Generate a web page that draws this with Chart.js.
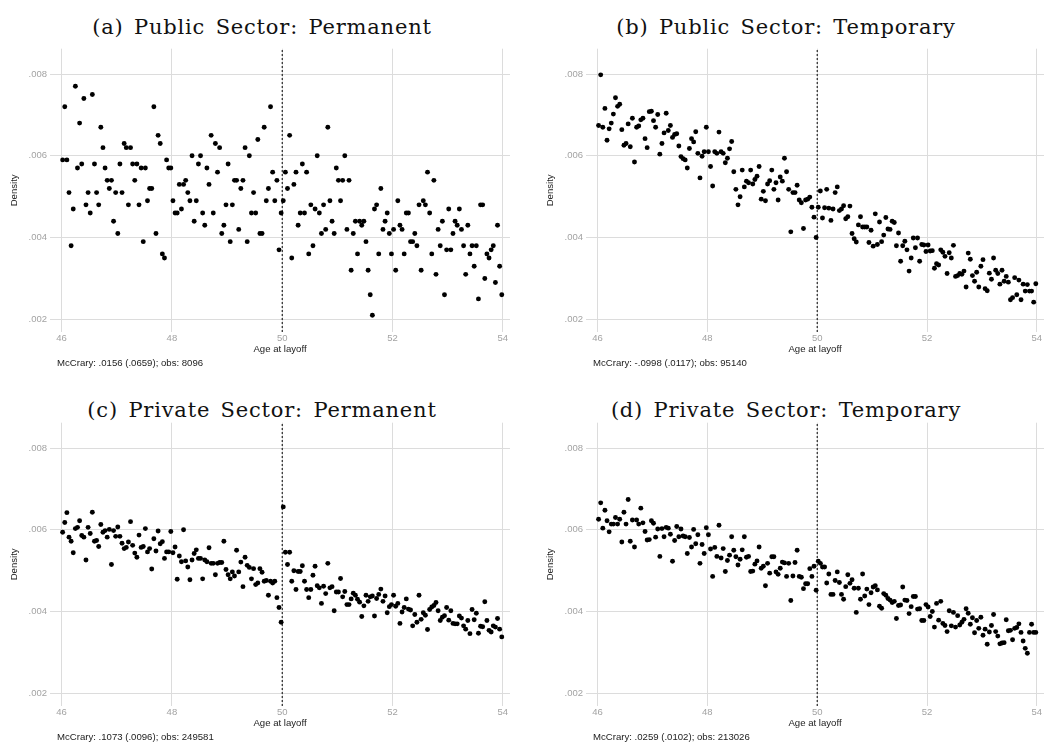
<!DOCTYPE html>
<html>
<head>
<meta charset="utf-8">
<script src="https://cdn.jsdelivr.net/npm/chart.js@4.4.1/dist/chart.umd.min.js"></script>
<style>
  html, body { margin: 0; padding: 0; background: #fff; }
  #page { position: relative; width: 1048px; height: 745px; overflow: hidden; }
  canvas { position: absolute; }
  .panel-title {
    position: absolute; width: 524px; text-align: center;
    font-family: "DejaVu Serif", serif; font-size: 21px; line-height: 24px;
    letter-spacing: 0.8px; word-spacing: 3px; color: #111;
  }
  .note {
    position: absolute; font-family: "Liberation Sans", Arial, sans-serif;
    font-size: 9.6px; line-height: 11px; color: #222; white-space: nowrap;
  }
</style>
</head>
<body>
<div id="page">
  <div class="panel-title" style="left:0;top:15px">(a) Public Sector: Permanent</div>
  <div class="panel-title" style="left:524px;top:15px">(b) Public Sector: Temporary</div>
  <div class="panel-title" style="left:0;top:398px">(c) Private Sector: Permanent</div>
  <div class="panel-title" style="left:524px;top:398px">(d) Private Sector: Temporary</div>

  <canvas id="pubPermChart" width="524" height="318" style="left:0;top:40px"></canvas>
  <canvas id="pubTempChart" width="512" height="318" style="left:536px;top:40px"></canvas>
  <canvas id="privPermChart" width="524" height="318" style="left:0;top:414px"></canvas>
  <canvas id="privTempChart" width="512" height="318" style="left:536px;top:414px"></canvas>

  <div class="note" style="left:57px;top:357px">McCrary: .0156 (.0659); obs: 8096</div>
  <div class="note" style="left:593px;top:357px">McCrary: -.0998 (.0117); obs: 95140</div>
  <div class="note" style="left:57px;top:731px">McCrary: .1073 (.0096); obs: 249581</div>
  <div class="note" style="left:593px;top:731px">McCrary: .0259 (.0102); obs: 213026</div>
</div>

<script>
// Two-week age bins from 46 to 54 (26 per year), cutoff at 50
const BINS_PER_YEAR = 26;
const ageBins = Array.from({ length: 208 }, (_, i) => 46 + (i + 0.5) / BINS_PER_YEAR);
const xTicks = [46, 48, 50, 52, 54];
const yTicks = [0.002, 0.004, 0.006, 0.008];
const CUTOFF = 50;
const X_MIN = 45.79, X_MAX = 54.13;
const Y_MIN = 0.00169, Y_MAX = 0.00862;

// Density per bin, public sector, permanent contracts
const pubPerm = [
  .0059,.0072,.0059,.0051,.0038,.0047,.0077,.0057,.0068,.0058,
  .0074,.0048,.0051,.0046,.0075,.0058,.0051,.0048,.0067,.0062,
  .0057,.0054,.0052,.0054,.0044,.0051,.0041,.0058,.0051,.0063,
  .0062,.0048,.0062,.0058,.0054,.0058,.0048,.0057,.0039,.0057,
  .0049,.0052,.0052,.0072,.0041,.0065,.0063,.0036,.0035,.0059,
  .0057,.0057,.0049,.0046,.0046,.0053,.0047,.0053,.0054,.0051,
  .0049,.0060,.0044,.0049,.0058,.0060,.0046,.0043,.0057,.0053,
  .0065,.0046,.0063,.0056,.0062,.0041,.0043,.0048,.0058,.0039,
  .0048,.0054,.0054,.0042,.0052,.0054,.0062,.0039,.0060,.0046,
  .0051,.0046,.0064,.0041,.0041,.0067,.0049,.0052,.0072,.0056,
  .0049,.0054,.0037,.0046,
  .0049,.0056,.0052,.0065,.0035,.0053,.0056,.0043,.0046,.0058,
  .0046,.0056,.0036,.0048,.0038,.0047,.0060,.0046,.0041,.0048,
  .0042,.0067,.0049,.0044,.0041,.0057,.0054,.0049,.0054,.0060,
  .0042,.0054,.0032,.0041,.0044,.0036,.0044,.0043,.0044,.0039,
  .0032,.0026,.0021,.0047,.0048,.0036,.0052,.0042,.0044,.0046,
  .0041,.0036,.0042,.0032,.0049,.0043,.0042,.0036,.0046,.0046,
  .0039,.0039,.0041,.0038,.0048,.0032,.0049,.0048,.0056,.0046,
  .0036,.0054,.0031,.0042,.0038,.0044,.0026,.0037,.0047,.0037,
  .0041,.0044,.0043,.0047,.0042,.0038,.0031,.0043,.0036,.0038,
  .0033,.0038,.0025,.0048,.0048,.0030,.0036,.0035,.0037,.0038,
  .0029,.0043,.0033,.0026
];

// Public sector, temporary contracts
const pubTemp = [
  .00674,.00798,.0067,.00716,.00638,.00666,.0068,.00702,.00742,.00721,
  .00726,.00664,.00626,.0063,.00678,.00622,.00692,.00585,.0067,.00673,
  .00688,.00692,.00642,.0062,.00708,.00709,.00686,.0067,.00701,.00604,
  .0063,.00656,.00704,.00662,.00674,.00645,.00652,.00654,.00624,.00598,
  .00593,.0059,.0057,.00618,.00642,.00634,.00659,.00606,.00546,.00599,
  .0061,.0067,.0061,.00574,.00526,.0061,.00606,.00658,.0061,.00606,
  .00583,.00594,.00617,.00635,.00561,.00518,.0048,.005,.00565,.00524,
  .00538,.00534,.00565,.00531,.00542,.0055,.00574,.00494,.00513,.0049,
  .00531,.00539,.00565,.00518,.00534,.00492,.00548,.00538,.00594,.00561,
  .00518,.00414,.0051,.0051,.00528,.00492,.00485,.00422,.00492,.00494,
  .00499,.00474,.0045,.004,
  .00474,.00514,.00448,.00473,.00518,.00472,.00442,.0047,.0051,.00524,
  .00466,.0047,.00478,.00446,.00451,.00477,.0041,.00397,.00389,.00431,
  .00451,.00426,.00426,.00426,.00388,.00418,.00379,.00458,.00383,.00438,
  .0039,.00406,.00449,.00421,.0042,.0044,.00437,.0038,.00411,.00342,
  .0038,.00391,.0037,.00318,.0035,.00399,.00375,.00399,.00342,.00383,
  .00382,.00366,.00382,.00367,.00368,.00325,.00336,.00333,.0037,.00364,
  .00354,.00312,.00363,.0035,.00381,.00305,.00307,.00312,.0031,.00318,
  .00279,.00362,.00347,.00307,.00293,.00315,.00279,.0033,.00346,.00275,
  .0027,.00313,.00298,.0035,.0032,.00312,.00286,.0032,.00293,.00305,
  .00291,.00248,.00253,.00302,.0026,.00296,.00248,.00286,.00269,.00285,
  .00269,.00269,.00242,.00287
];

// Private sector, permanent contracts
const privPerm = [
  .00594,.00618,.00642,.00582,.00572,.00544,.00603,.00606,.00622,.00586,
  .00582,.00526,.00606,.00591,.00643,.00572,.00574,.00559,.00613,.00594,
  .00598,.00582,.00601,.00515,.00598,.00584,.00607,.00584,.00567,.00554,
  .00557,.0057,.0062,.00562,.00543,.00533,.00587,.00557,.00559,.00603,
  .00546,.00554,.00504,.00578,.00548,.00597,.00566,.00571,.0053,.00546,
  .00546,.00596,.00544,.00558,.00479,.00536,.00522,.006,.00524,.00509,
  .00478,.00526,.00542,.00551,.0053,.0053,.0048,.00526,.00522,.00556,
  .00518,.00518,.0049,.00518,.0052,.0052,.00572,.00503,.0049,.0048,
  .00497,.00487,.0055,.00497,.00521,.00461,.00533,.00513,.00508,.0048,
  .00505,.00466,.0047,.00505,.00496,.00474,.00476,.0044,.00474,.0047,
  .00474,.00434,.0041,.00374,
  .00656,.00545,.00515,.00545,.00474,.005,.00454,.00498,.00498,.00512,
  .00474,.00454,.00434,.00454,.00489,.00511,.00463,.00458,.0042,.00462,
  .00444,.00518,.00458,.00461,.00402,.00448,.00448,.00481,.00436,.00449,
  .00417,.00417,.00431,.00445,.0044,.0043,.00423,.00388,.00414,.0044,
  .00425,.00436,.00438,.00389,.00432,.00442,.00455,.00425,.00438,.00397,
  .00412,.00417,.0044,.00413,.0042,.00371,.00399,.0041,.00431,.00406,
  .00404,.00365,.00393,.00374,.0044,.00381,.00397,.00391,.00356,.00405,
  .00411,.00415,.00422,.00402,.00378,.00386,.0039,.0041,.00379,.00402,
  .00371,.0037,.0037,.00389,.00384,.00365,.00357,.00378,.00346,.00405,
  .0038,.00396,.00347,.00364,.00363,.00424,.00378,.00354,.0035,.00365,
  .00362,.00383,.00357,.00338
];

// Private sector, temporary contracts
const privTemp = [
  .00626,.00666,.00604,.00648,.00622,.00595,.00614,.00614,.0063,.00614,
  .00626,.0057,.00643,.00614,.00674,.00572,.00624,.00558,.00624,.00614,
  .00653,.00617,.00596,.00575,.00576,.00622,.00616,.00582,.00602,.00535,
  .00603,.00583,.00606,.00604,.00589,.00523,.00574,.00608,.00583,.00602,
  .00585,.00583,.00542,.00581,.00558,.00601,.00566,.00588,.00518,.00564,
  .00542,.00605,.00588,.00553,.00486,.00557,.00535,.00611,.00531,.00554,
  .00498,.00525,.00538,.00583,.0055,.00534,.00514,.00528,.00551,.00583,
  .00533,.00535,.00498,.00499,.00516,.00524,.00558,.00506,.00511,.00463,
  .00518,.00494,.00534,.00534,.00497,.00491,.00506,.00521,.00519,.00486,
  .00518,.00427,.00487,.0052,.0055,.00486,.00484,.00456,.00468,.00468,
  .00505,.00486,.00511,.00452,
  .00523,.00518,.00509,.00509,.0047,.00492,.00442,.00442,.00476,.00497,
  .00471,.00442,.0043,.00461,.0049,.00469,.00478,.00457,.00398,.00457,
  .0043,.00492,.00438,.00455,.00417,.00446,.0046,.00463,.00453,.00413,
  .00408,.00444,.0044,.00432,.00428,.00422,.00425,.00383,.00415,.00416,
  .0046,.00428,.00427,.00395,.00412,.00437,.00437,.00406,.00407,.00378,
  .00378,.00417,.00411,.00388,.004,.00362,.0042,.00379,.00425,.00371,
  .00366,.00351,.00402,.00365,.00398,.00362,.0039,.00367,.00374,.00381,
  .00407,.00396,.00369,.00385,.00348,.00378,.00359,.00386,.00342,.00357,
  .0032,.0035,.00366,.00393,.00351,.0034,.00321,.00323,.00324,.0038,
  .00353,.00354,.00331,.00359,.00361,.0037,.00349,.00328,.0031,.00298,
  .00349,.00369,.00349,.00349
];

const axisFont = { family: '"Liberation Sans", Arial, sans-serif', size: 9.5 };
const gridColor = '#dcdcdc';

function makePanel(canvasId, density, rightPad) {
  const points = density.map((d, i) => ({ x: ageBins[i], y: d }));
  return new Chart(document.getElementById(canvasId), {
    type: 'scatter',
    data: {
      datasets: [
        {
          // vertical dashed line at the age-50 cutoff
          type: 'line',
          data: [{ x: CUTOFF, y: Y_MIN }, { x: CUTOFF, y: Y_MAX }],
          borderColor: '#000',
          borderWidth: 1,
          borderDash: [2, 2],
          pointRadius: 0,
          fill: false
        },
        {
          data: points,
          pointRadius: 2.45,
          pointBackgroundColor: '#000',
          pointBorderWidth: 0
        }
      ]
    },
    options: {
      responsive: false,
      animation: false,
      events: [],
      layout: { padding: { top: 3, right: rightPad, left: 0, bottom: 0 } },
      plugins: { legend: { display: false }, tooltip: { enabled: false } },
      scales: {
        x: {
          type: 'linear',
          min: X_MIN,
          max: X_MAX,
          afterBuildTicks: s => { s.ticks = xTicks.map(v => ({ value: v })); },
          afterFit: s => { s.height = 26; },
          border: { display: false },
          grid: { color: gridColor, lineWidth: 1, drawTicks: false },
          ticks: { color: '#a3a3a3', font: axisFont, padding: 1, maxRotation: 0, autoSkip: false },
          title: {
            display: true, text: 'Age at layoff', color: '#222',
            font: { family: axisFont.family, size: 9.6 }, padding: { top: 0, bottom: 3 }
          }
        },
        y: {
          min: Y_MIN,
          max: Y_MAX,
          afterBuildTicks: s => { s.ticks = yTicks.map(v => ({ value: v })); },
          afterFit: s => { s.width = 50; },
          border: { display: false },
          grid: { color: gridColor, lineWidth: 1, drawTicks: false },
          ticks: {
            color: '#a3a3a3', font: axisFont, padding: 3,
            callback: v => v.toFixed(3).replace(/^0/, '')
          },
          title: {
            display: true, text: 'Density', color: '#222',
            font: { family: axisFont.family, size: 9.6 }, padding: { top: 9, bottom: 0 }
          }
        }
      }
    }
  });
}

makePanel('pubPermChart', pubPerm, 14);
makePanel('pubTempChart', pubTemp, 2);
makePanel('privPermChart', privPerm, 14);
makePanel('privTempChart', privTemp, 2);
</script>
</body>
</html>
